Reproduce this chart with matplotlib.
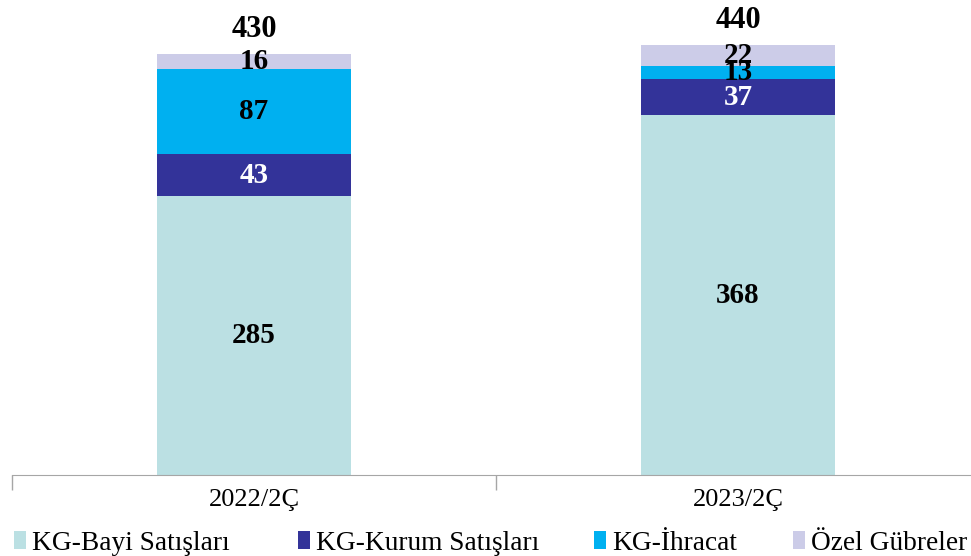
import numpy as np
import matplotlib.pyplot as plt
from matplotlib.patches import Patch

plt.rcParams['font.family'] = ['Liberation Serif', 'DejaVu Serif']

categories = ['2022/2Ç', '2023/2Ç']
series_names = ['KG-Bayi Satışları', 'KG-Kurum Satışları', 'KG-İhracat', 'Özel Gübreler']
bayi = [285, 368]
kurum = [43, 37]
ihracat = [87, 13]
ozel = [16, 22]
totals = [430, 440]

colors = ['#BBE0E3', '#333399', '#00B0F0', '#CCCCE8']
label_colors = ['black', 'white', 'black', 'black']

fig = plt.figure(figsize=(9.71, 5.56), dpi=100)
ax = fig.add_axes([12 / 971, 81 / 556, 968 / 971, 475 / 556])

x = np.arange(len(categories))
bottom = np.zeros(len(categories))
for name, vals, col, lc in zip(series_names, [bayi, kurum, ihracat, ozel], colors, label_colors):
    vals = np.array(vals, dtype=float)
    ax.bar(x, vals, 0.4, bottom=bottom, color=col, label=name)
    for xi, b, v in zip(x, bottom, vals):
        bb = None
        if lc == 'white' and v < 40:
            bb = dict(facecolor=col, edgecolor='none', pad=1.5)
        ax.text(xi, b + v / 2, str(int(v)), ha='center', va='center',
                fontsize=21, fontweight='bold', color=lc, bbox=bb)
    bottom += vals

for xi, t, top in zip(x, totals, bottom):
    ax.annotate(str(t), (xi, top), xytext=(0, 7), textcoords='offset points',
                ha='center', va='bottom', fontsize=22, fontweight='bold')

ax.set_xlim(-0.5, 1.5)
ax.set_ylim(0, 486)
ax.set_yticks([])
for s in ['top', 'right', 'left']:
    ax.spines[s].set_visible(False)
ax.spines['bottom'].set_color('#A6A6A6')
ax.set_xticks(x)
ax.set_xticklabels(categories, fontsize=19)
ax.tick_params(axis='x', which='major', length=0, pad=10)
ax.set_xticks([-0.5, 0.5, 1.5], minor=True)
ax.tick_params(axis='x', which='minor', length=11, color='#A6A6A6', width=1)

# legend entries placed one by one to follow the reference spacing
legend_x = [10, 294, 590, 789]
for name, col, lx in zip(series_names, colors, legend_x):
    fig.legend(handles=[Patch(facecolor=col, label=name)], loc='lower left',
               bbox_to_anchor=(lx / 971, -0.007), frameon=False, fontsize=19.7,
               handlelength=0.45, handleheight=0.6, handletextpad=0.2,
               borderpad=0.15, borderaxespad=0)

fig.savefig('out.png', dpi=100)
